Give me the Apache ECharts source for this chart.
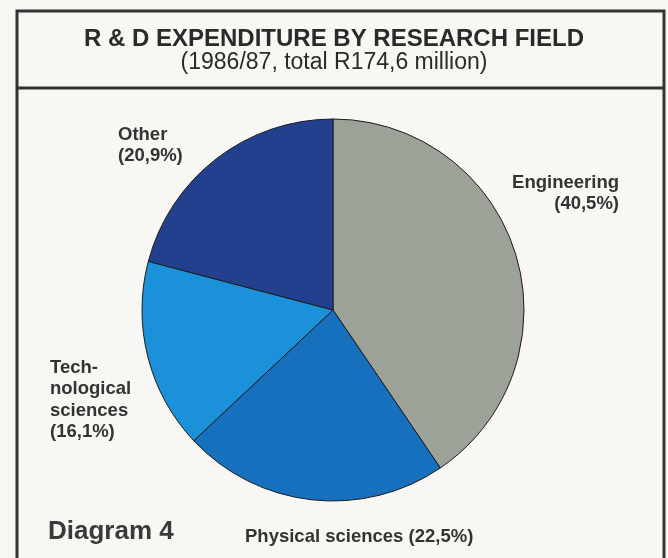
<!DOCTYPE html>
<html>
<head>
<meta charset="utf-8">
<script src="https://cdn.jsdelivr.net/npm/echarts@6/dist/echarts.min.js"></script>
<style>
  html, body { margin: 0; padding: 0; background: #f8f7f3; }
  #chart { width: 668px; height: 558px; }
</style>
</head>
<body>
<div id="chart"></div>
<script>
// R & D expenditure by research field, 1986/87 (percent of total)
const fields = ['Engineering', 'Physical sciences', 'Technological sciences', 'Other'];
const shares = [40.5, 22.5, 16.1, 20.9];
const labelNames = ['Engineering', 'Physical sciences', 'Tech-\nnological\nsciences', 'Other'];
const sliceColors = ['#9da299', '#1670bd', '#1a91d9', '#22408e'];

const titleText = 'R & D EXPENDITURE BY RESEARCH FIELD';
const subtitleText = '(1986/87, total R174,6 million)';
const captionText = 'Diagram 4';

// label anchors (x, y, align) per slice
const labelSpots = [
  { x: 619, y: 172, align: 'right' },
  { x: 245, y: 526, align: 'left' },
  { x: 50, y: 357, align: 'left' },
  { x: 118, y: 124, align: 'left' }
];

const fmtPct = v => v.toFixed(1).replace('.', ',') + '%';

const chart = echarts.init(document.getElementById('chart'));
chart.setOption({
  backgroundColor: '#f8f7f3',
  animation: false,
  title: {
    text: titleText,
    subtext: subtitleText,
    left: 'center',
    top: 22,
    itemGap: 0,
    textStyle: { fontFamily: 'Liberation Sans', fontWeight: 'bold', fontSize: 24, color: '#2a2a2a' },
    subtextStyle: { fontFamily: 'Liberation Sans', fontSize: 23, color: '#2a2a2a' }
  },
  graphic: [
    // outer frame (open at the bottom) and title divider
    { type: 'polyline', shape: { points: [[17, 558], [17, 11], [664, 11], [664, 558]] },
      style: { stroke: '#333', lineWidth: 3, fill: null }, silent: true },
    { type: 'line', shape: { x1: 17, y1: 88, x2: 664, y2: 88 },
      style: { stroke: '#333', lineWidth: 3 }, silent: true },
    { type: 'text', left: 48, top: 519,
      style: { text: captionText, font: 'bold 26px "Liberation Sans"', fill: '#3a3a3a' } }
  ],
  series: [{
    type: 'pie',
    center: [333, 310],
    radius: [0, 191],
    startAngle: 90,
    clockwise: true,
    avoidLabelOverlap: false,
    itemStyle: { borderColor: '#1c1c1c', borderWidth: 1 },
    labelLine: { show: false },
    label: {
      show: true,
      position: 'outside',
      fontFamily: 'Liberation Sans',
      fontWeight: 'bold',
      fontSize: 18.5,
      lineHeight: 21.5,
      color: '#333',
      formatter: p => {
        const name = labelNames[p.dataIndex];
        const pct = '(' + fmtPct(p.value) + ')';
        return p.dataIndex === 1 ? name + ' ' + pct : name + '\n' + pct;
      }
    },
    labelLayout: p => {
      const s = labelSpots[p.dataIndex];
      return { x: s.x, y: s.y, align: s.align, verticalAlign: 'top', hideOverlap: false };
    },
    data: fields.map((f, i) => ({
      name: f,
      value: shares[i],
      itemStyle: { color: sliceColors[i] }
    }))
  }]
});
</script>
</body>
</html>
